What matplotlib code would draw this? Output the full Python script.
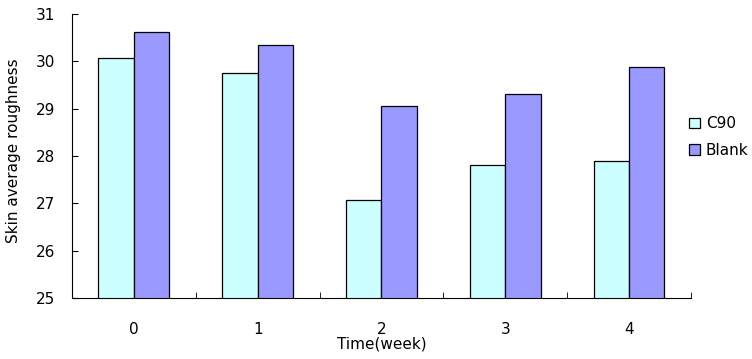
import numpy as np
import matplotlib.pyplot as plt

weeks = ["0", "1", "2", "3", "4"]
c90 = [30.08, 29.75, 27.08, 27.8, 27.9]
blank = [30.63, 30.35, 29.05, 29.32, 29.88]

fig = plt.figure(figsize=(7.52, 3.59), dpi=100)
ax = fig.add_axes([0.0957, 0.170, 0.823, 0.791])

x = np.arange(len(weeks))
w = 0.286
ax.bar(x - w / 2, c90, w, color="#CCFFFF", edgecolor="black", linewidth=0.9, label="C90")
ax.bar(x + w / 2, blank, w, color="#9999FF", edgecolor="black", linewidth=0.9, label="Blank")

ax.set_ylim(25, 31)
ax.set_xlim(-0.5, len(weeks) - 0.5)
ax.set_yticks(range(25, 32))
ax.set_xticks(x)
ax.set_xticklabels(weeks)
ax.set_xticks(np.arange(-0.5, len(weeks)), minor=True)
ax.tick_params(axis="x", which="major", length=0, pad=17, labelsize=11)
ax.tick_params(axis="x", which="minor", direction="in", length=4)
ax.tick_params(axis="y", direction="in", length=4, labelsize=11, pad=12)

for s in ["top", "right"]:
    ax.spines[s].set_visible(False)

ax.set_xlabel("Time(week)", fontsize=11, labelpad=0)
ax.set_ylabel("Skin average roughness", fontsize=11, labelpad=10)
ax.yaxis.set_label_coords(-0.082, 0.52)

fig.legend(*ax.get_legend_handles_labels(), loc="center left",
           bbox_to_anchor=(0.916, 0.618), frameon=False, borderpad=0,
           borderaxespad=0, fontsize=11, handlelength=0.7, handleheight=0.7,
           handletextpad=0.4, labelspacing=0.75)

fig.savefig("out.png", dpi=100)
